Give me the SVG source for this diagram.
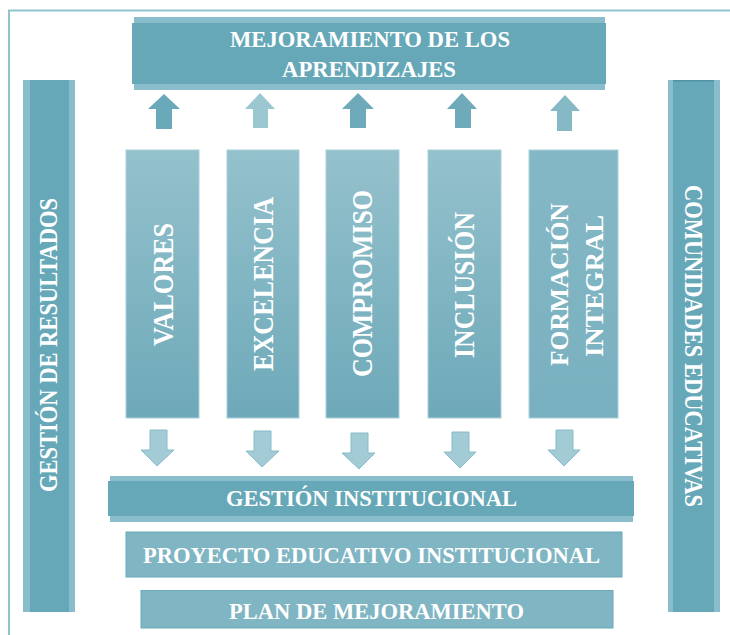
<svg xmlns="http://www.w3.org/2000/svg" width="730" height="635" viewBox="0 0 730 635">
  <defs>
    <linearGradient id="colGrad" x1="0" y1="0" x2="0" y2="1">
      <stop offset="0" stop-color="#94c1cc"/>
      <stop offset="1" stop-color="#6ea9b9"/>
    </linearGradient>
    <linearGradient id="colGrad2" x1="0" y1="0" x2="0" y2="1">
      <stop offset="0" stop-color="#85b8c6"/>
      <stop offset="1" stop-color="#79b0bf"/>
    </linearGradient>
  </defs>
  <style>
    .lbl { font-family: "Liberation Serif", "Times New Roman", serif; font-weight: bold; fill: #ffffff; text-anchor: middle; }
    .h { font-size: 23.5px; }
    .v { font-size: 30px; }
    .v2 { font-size: 26px; }
    .s { font-size: 25px; }
    .dark { fill: #66a8b8; }
    .light { fill: #89bdcb; }
    .col { fill: url(#colGrad); stroke: #a9d0da; stroke-width: 1; }
    .flat { fill: #80b5c3; stroke: #6aa9b9; stroke-width: 1; }
    .down { fill: #a2cbd5; stroke: #86bccb; stroke-width: 1; }
  </style>

  <rect x="9" y="10.5" width="740" height="640" fill="none" stroke="#92c4cf" stroke-width="2"/>

  <g id="mejoramiento">
    <rect class="light" x="134" y="17" width="471" height="73"/>
    <rect class="dark" x="132" y="23" width="474" height="61"/>
    <text class="lbl h" x="370" y="47" textLength="280" lengthAdjust="spacingAndGlyphs">MEJORAMIENTO DE LOS</text>
    <text class="lbl h" x="369" y="77" textLength="174" lengthAdjust="spacingAndGlyphs">APRENDIZAJES</text>
  </g>

  <g id="gestion-resultados">
    <rect class="light" x="23" y="80" width="52" height="532"/>
    <rect class="dark" x="30" y="80" width="39" height="532"/>
    <text class="lbl s" transform="translate(57,345) rotate(-90)" textLength="294" lengthAdjust="spacingAndGlyphs">GESTIÓN DE RESULTADOS</text>
  </g>

  <g id="comunidades">
    <rect class="light" x="668" y="80" width="52" height="532"/>
    <rect class="dark" x="673" y="80" width="41" height="532"/>
    <rect x="673" y="80" width="41" height="1.5" fill="#4f94a6"/>
    <text class="lbl s" transform="translate(685,346) rotate(90)" textLength="322" lengthAdjust="spacingAndGlyphs">COMUNIDADES EDUCATIVAS</text>
  </g>

  <g id="valores">
    <rect class="col" x="126" y="150" width="73" height="268"/>
    <text class="lbl v" transform="translate(173,284.5) rotate(-90)" textLength="123" lengthAdjust="spacingAndGlyphs">VALORES</text>
  </g>
  <g id="excelencia">
    <rect class="col" x="227" y="150" width="72" height="268"/>
    <text class="lbl v" transform="translate(273,284) rotate(-90)" textLength="174" lengthAdjust="spacingAndGlyphs">EXCELENCIA</text>
  </g>
  <g id="compromiso">
    <rect class="col" x="326" y="150" width="73" height="268"/>
    <text class="lbl v" transform="translate(372,283.5) rotate(-90)" textLength="187" lengthAdjust="spacingAndGlyphs">COMPROMISO</text>
  </g>
  <g id="inclusion">
    <rect class="col" x="428" y="150" width="73" height="268"/>
    <text class="lbl v" transform="translate(474,285) rotate(-90)" textLength="146" lengthAdjust="spacingAndGlyphs">INCLUSIÓN</text>
  </g>
  <g id="formacion">
    <rect x="529" y="150" width="89" height="268" fill="url(#colGrad2)" stroke="#a9d0da" stroke-width="1"/>
    <text class="lbl v2" transform="translate(568,284.5) rotate(-90)" textLength="163" lengthAdjust="spacingAndGlyphs">FORMACIÓN</text>
    <text class="lbl v2" transform="translate(603,286) rotate(-90)" textLength="142" lengthAdjust="spacingAndGlyphs">INTEGRAL</text>
  </g>

  <g id="gestion-institucional">
    <rect class="light" x="110" y="476" width="523" height="46"/>
    <rect class="dark" x="108" y="481" width="526" height="35"/>
    <text class="lbl h" x="371.5" y="506" textLength="291" lengthAdjust="spacingAndGlyphs">GESTIÓN INSTITUCIONAL</text>
  </g>

  <g id="pei">
    <rect class="flat" x="126" y="532" width="496" height="45"/>
    <text class="lbl h" x="371.5" y="563" textLength="457" lengthAdjust="spacingAndGlyphs">PROYECTO EDUCATIVO INSTITUCIONAL</text>
  </g>

  <g id="plan">
    <rect class="flat" x="141" y="590.5" width="472" height="37.5"/>
    <text class="lbl h" x="376.5" y="619" textLength="295" lengthAdjust="spacingAndGlyphs">PLAN DE MEJORAMIENTO</text>
  </g>

  <g id="connectors">
    <polygon fill="#6aa9b9" points="164,94 180,109 172,109 172,129 156,129 156,109 148,109"/>
    <polygon fill="#9bc7d1" points="260,93 275,109 268,109 268,128 253,128 253,109 245,109"/>
    <polygon fill="#6eaaba" points="358,93 374,109 366,109 366,128 350,128 350,109 342,109"/>
    <polygon fill="#6eaaba" points="462,93 477,109 471,109 471,128 455,128 455,109 447,109"/>
    <polygon fill="#86b9c6" points="565,95 580,111 572,111 572,131 557,131 557,111 550,111"/>

    <polygon class="down" points="150,430 167,430 167,450 174,450 157,466 141,450 150,450"/>
    <polygon class="down" points="254,431 271,431 271,451 279,451 262,467 246,451 254,451"/>
    <polygon class="down" points="351,433 368,433 368,453 375,453 359,469 342,453 351,453"/>
    <polygon class="down" points="452,432 469,432 469,452 476,452 460,468 444,452 452,452"/>
    <polygon class="down" points="556,430 573,430 573,450 580,450 564,466 548,450 556,450"/>
  </g>
</svg>
